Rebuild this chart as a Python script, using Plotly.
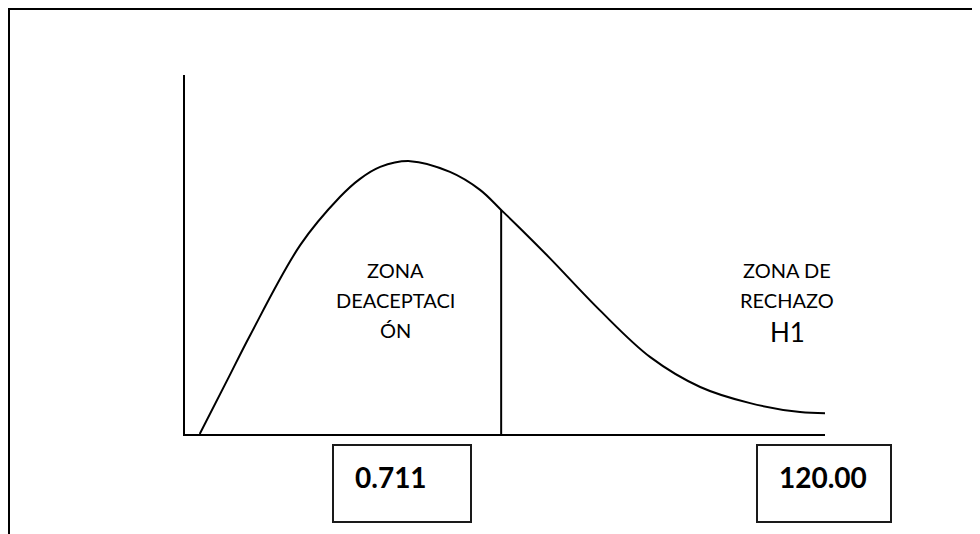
import numpy as np
import plotly.graph_objects as go

# ---- data (diagram units: x 0-100, y 0-100) ----
curve_x = [2.3, 6.6, 10.2, 18.0, 24.2, 27.3, 30.5, 35.2, 41.4, 46.1, 49.4, 52.3, 57.0, 64.8, 72.7, 80.5, 88.3, 96.1, 100.0]
curve_y = [0.0, 15.0, 27.6, 52.6, 66.0, 71.0, 74.4, 76.0, 73.0, 68.0, 62.4, 57.4, 49.0, 34.5, 21.4, 13.1, 8.6, 6.1, 5.8]
critical_x = 49.4
zone_accept_lines = ["ZONA", "DEACEPTACI", "ÓN"]
zone_reject_lines = ["ZONA DE", "RECHAZO"]
hypothesis_label = "H1"
value_labels = ["0.711", "120.00"]

OFF = 8  # page body margin
W, H = 980 - OFF, 534 - OFF
L, R, T, B = 185, 825, 75, 434  # plot area in page pixels


def px(xp):
    return (xp - L) / (R - L)


def py(yp):
    return (B - yp) / (B - T)


fig = go.Figure()
fig.add_trace(go.Scatter(x=curve_x, y=curve_y, mode="lines",
                         line=dict(color="black", width=2, shape="spline", smoothing=1.0),
                         cliponaxis=False, hoverinfo="skip", showlegend=False))
crit_top = float(np.interp(critical_x, curve_x, curve_y))
fig.add_trace(go.Scatter(x=[critical_x, critical_x], y=[0, crit_top], mode="lines",
                         line=dict(color="black", width=2),
                         cliponaxis=False, hoverinfo="skip", showlegend=False))

shapes = []
# outer frame (only top and left visible)
shapes.append(dict(type="rect", xref="paper", yref="paper",
                   x0=px(9), x1=px(1010), y0=py(570), y1=py(9),
                   line=dict(color="black", width=2)))
# value boxes
box_specs = [(333, 471), (757, 891)]
for (x0, x1) in box_specs:
    shapes.append(dict(type="rect", xref="paper", yref="paper",
                       x0=px(x0), x1=px(x1), y0=py(522), y1=py(445),
                       line=dict(color="#1a1a1a", width=2)))

annotations = []
FONT = "Lato, Liberation Sans, Arial"
font_small = dict(family=FONT, size=20, color="black")
for i, t in enumerate(zone_accept_lines):
    annotations.append(dict(xref="paper", yref="paper", x=px(395), y=py(270 + 30 * i),
                            text=t, showarrow=False, font=font_small,
                            xanchor="center", yanchor="middle"))
for i, t in enumerate(zone_reject_lines):
    annotations.append(dict(xref="paper", yref="paper", x=px(787), y=py(270 + 30 * i),
                            text=t, showarrow=False, font=font_small,
                            xanchor="center", yanchor="middle"))
annotations.append(dict(xref="paper", yref="paper", x=px(787), y=py(332),
                        text=hypothesis_label, showarrow=False,
                        font=dict(family=FONT, size=26, color="black"),
                        xanchor="center", yanchor="middle"))
value_centers = [391, 823]
for v, cx in zip(value_labels, value_centers):
    annotations.append(dict(xref="paper", yref="paper", x=px(cx), y=py(477),
                            text="<b>" + v + "</b>", showarrow=False,
                            font=dict(family=FONT, size=28, color="black"),
                            xanchor="center", yanchor="middle"))

axis_common = dict(showline=True, linecolor="black", linewidth=2, showgrid=False,
                   zeroline=False, showticklabels=False, ticks="", fixedrange=True)
fig.update_layout(
    width=W, height=H,
    margin=dict(l=L - OFF, r=980 - R, t=T - OFF, b=534 - B, pad=0),
    paper_bgcolor="white", plot_bgcolor="white",
    xaxis=dict(range=[0, 100], **axis_common),
    yaxis=dict(range=[0, 100], **axis_common),
    shapes=shapes, annotations=annotations,
    showlegend=False,
)
fig.write_html("out.html", config={"displayModeBar": False})
